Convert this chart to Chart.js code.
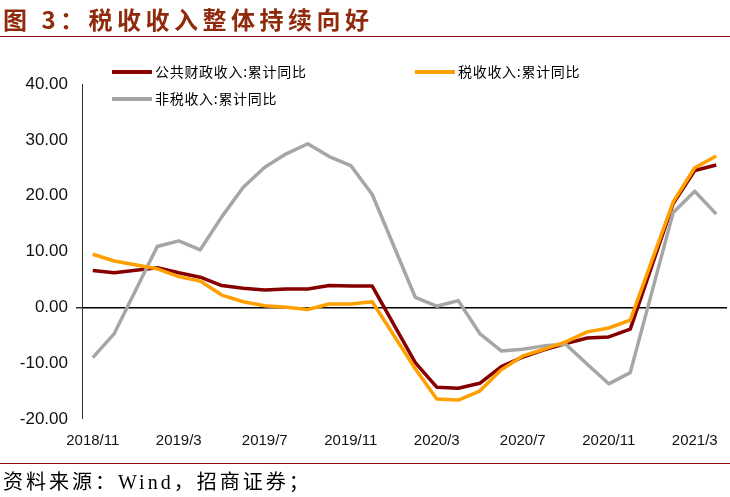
<html>
<head>
 <meta charset="utf-8" />
 <title>税收收入整体持续向好</title>
 <script src="https://cdn.jsdelivr.net/npm/chart.js@4.4.1/dist/chart.umd.min.js"></script>
 <style>
  body { margin: 0; width: 730px; height: 497px; position: relative; background: #fff; overflow: hidden; }
  #title { position: absolute; left: 3px; top: 1px; font: bold 24px "Noto Sans CJK SC"; letter-spacing: 4.5px; color: #8f2a0c; white-space: nowrap; }
  #titleLine { position: absolute; left: 0; top: 36px; width: 730px; height: 0; border-top: 1.5px solid #8b0a0a; }
  #footLine { position: absolute; left: 0; top: 463px; width: 730px; height: 0; border-top: 1.5px solid #8b0a0a; }
  #source { position: absolute; left: 3px; top: 466px; font: 20px "Liberation Serif", "Noto Sans CJK SC"; letter-spacing: 3px; color: #000; white-space: nowrap; }
  #chartBox { position: absolute; left: 0; top: 0; width: 730px; height: 497px; }
  .lg { position: absolute; font: 14px "Noto Sans CJK SC"; letter-spacing: 0.7px; color: #000; white-space: nowrap; line-height: 18px; }
  .lg span { display: inline-block; width: 40px; height: 4px; vertical-align: middle; margin-right: 3px; position: relative; top: -1px; }
 </style>
</head>

<body>
 <div id="chartBox"><canvas id="myChart" width="730" height="497"></canvas></div>
 <div id="title">图 3：税收收入整体持续向好</div>
 <div id="titleLine"></div>
 <div id="legend"></div>
 <div id="footLine"></div>
 <div id="source">资料来源：Wind，招商证券；</div>

 <script>
  // months 2018/11 - 2021/4, January has no data (Jan-Feb are reported together)
  var months = ["2018/11", "2018/12",
   "2019/1", "2019/2", "2019/3", "2019/4", "2019/5", "2019/6", "2019/7", "2019/8", "2019/9", "2019/10", "2019/11", "2019/12",
   "2020/1", "2020/2", "2020/3", "2020/4", "2020/5", "2020/6", "2020/7", "2020/8", "2020/9", "2020/10", "2020/11", "2020/12",
   "2021/1", "2021/2", "2021/3", "2021/4"];

  // cumulative yoy, %
  var publicRevenue = [6.6, 6.2,
   null, 7.1, 6.2, 5.4, 3.9, 3.4, 3.1, 3.3, 3.3, 3.9, 3.8, 3.8,
   null, -9.9, -14.3, -14.5, -13.6, -10.6, -8.9, -7.6, -6.5, -5.5, -5.3, -3.9,
   null, 18.6, 24.5, 25.5];
  var taxRevenue = [9.5, 8.3,
   null, 6.9, 5.5, 4.7, 2.2, 1.0, 0.3, 0.0, -0.4, 0.6, 0.6, 1.0,
   null, -11.0, -16.4, -16.6, -15.0, -11.2, -8.7, -7.5, -6.2, -4.4, -3.7, -2.3,
   null, 18.9, 25.0, 27.1];
  var nonTaxRevenue = [-9.0, -4.7,
   null, 10.9, 11.9, 10.3, 16.2, 21.5, 25.1, 27.5, 29.3, 27.0, 25.4, 20.2,
   null, 1.8, 0.2, 1.2, -4.7, -7.8, -7.5, -6.9, -6.6, -10.2, -13.7, -11.7,
   null, 17.0, 20.8, 16.7];

  // only these months get a label on the x axis
  var tickLabels = ["2018/11", "2019/3", "2019/7", "2019/11", "2020/3", "2020/7", "2020/11", "2021/3"];

  var seriesNames = ["公共财政收入:累计同比", "税收收入:累计同比", "非税收入:累计同比"];
  var seriesColors = ["#860000", "#ffa000", "#a6a6a6"];

  //legend as html text (two columns, second row under first)
  var legendPos = [[112, 62], [415, 62], [112, 89]];
  var legend = document.getElementById("legend");
  for (var i = 0; i < seriesNames.length; i++) {
   var d = document.createElement("div");
   d.className = "lg";
   d.style.left = legendPos[i][0] + "px";
   d.style.top = legendPos[i][1] + "px";
   d.innerHTML = '<span style="background:' + seriesColors[i] + '"></span>' + seriesNames[i];
   legend.append(d);
  }

  function makeSet(idx, data) {
   return {
    label: seriesNames[idx],
    data: data,
    borderColor: seriesColors[idx],
    backgroundColor: seriesColors[idx],
    borderWidth: 3.5,
    pointRadius: 0,
    tension: 0,
    spanGaps: true,
    borderJoinStyle: "round"
   };
  }

  var ctx = document.getElementById("myChart").getContext("2d");
  var chart = new Chart(ctx, {
   type: "line",
   data: {
    labels: months,
    datasets: [makeSet(1, taxRevenue), makeSet(2, nonTaxRevenue), makeSet(0, publicRevenue)]
   },
   options: {
    responsive: false,
    animation: false,
    layout: { padding: { top: 84, right: 3, bottom: 46, left: 0 } },
    plugins: { legend: { display: false }, tooltip: { enabled: false } },
    scales: {
     x: {
      offset: true,
      grid: { display: false, drawTicks: false },
      border: { display: false },
      afterFit: function (scale) { scale.height = 32; },
      ticks: {
       autoSkip: false,
       maxRotation: 0,
       padding: 13,
       color: "#111",
       font: { family: "Liberation Sans", size: 15 },
       callback: function (val, idx) {
        var m = months[idx];
        return tickLabels.indexOf(m) >= 0 ? m : "";
       }
      }
     },
     y: {
      min: -20,
      max: 40,
      afterFit: function (scale) { scale.width = 82; },
      border: { display: true, color: "#333", width: 1 },
      grid: {
       drawTicks: true,
       tickLength: 6,
       tickColor: "#333",
       lineWidth: function (c) { return c.tick && c.tick.value === 0 ? 1.5 : 0; },
       color: function (c) { return c.tick && c.tick.value === 0 ? "#000" : "rgba(0,0,0,0)"; }
      },
      ticks: {
       stepSize: 10,
       padding: 8,
       color: "#111",
       font: { family: "Liberation Sans", size: 17 },
       callback: function (v) { return v.toFixed(2); }
      }
     }
    }
   }
  });
 </script>
</body>
</html>
